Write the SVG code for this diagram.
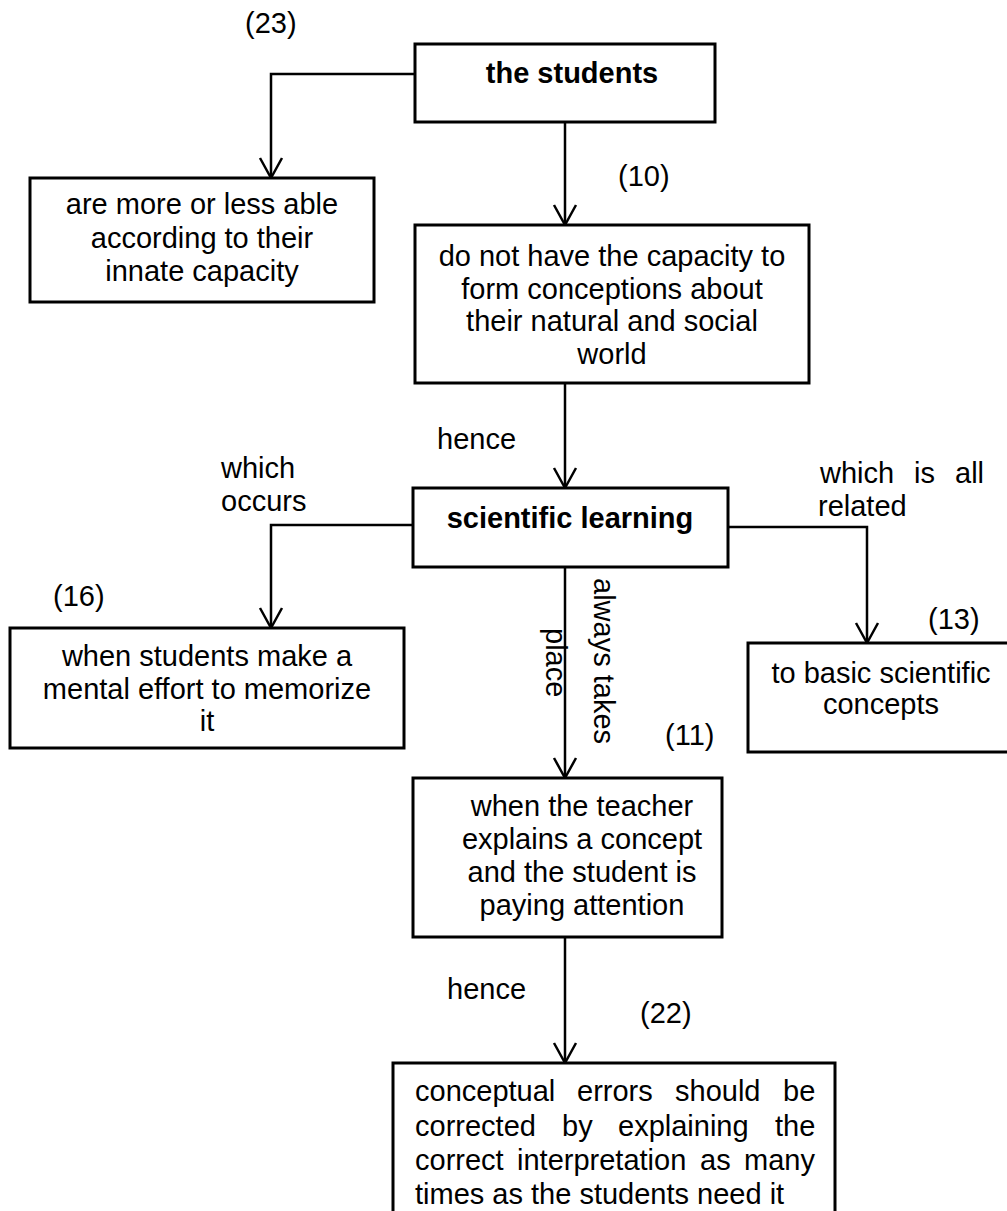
<svg xmlns="http://www.w3.org/2000/svg" width="1007" height="1211" viewBox="0 0 1007 1211">
  <style>
    .box { fill: #ffffff; stroke: #000000; stroke-width: 3; }
    .conn { fill: none; stroke: #000000; stroke-width: 2.5; }
    text { font-family: "Liberation Sans", Arial, sans-serif; font-size: 29px; fill: #000000; }
    .c { text-anchor: middle; }
    .b { font-weight: bold; }
  </style>
  <defs>
    <marker id="vee" markerUnits="userSpaceOnUse" markerWidth="30" markerHeight="30" refX="0" refY="0" viewBox="-24 -15 30 30" orient="auto" overflow="visible">
      <path d="M-20,-11 L0,0 L-20,11" fill="none" stroke="#000000" stroke-width="2.5"/>
    </marker>
  </defs>
  <rect width="1007" height="1211" fill="#ffffff"/>

  <!-- connectors -->
  <g id="connectors">
    <path class="conn" d="M415,74 H271 V178" marker-end="url(#vee)"/>
    <path class="conn" d="M565,122 V225" marker-end="url(#vee)"/>
    <path class="conn" d="M565,383 V488" marker-end="url(#vee)"/>
    <path class="conn" d="M413,525 H271 V628" marker-end="url(#vee)"/>
    <path class="conn" d="M728,527 H867 V643" marker-end="url(#vee)"/>
    <path class="conn" d="M565,567 V778" marker-end="url(#vee)"/>
    <path class="conn" d="M565,937 V1063" marker-end="url(#vee)"/>
  </g>

  <!-- connector labels -->
  <g id="labels">
    <text x="245" y="33">(23)</text>
    <text x="618" y="186">(10)</text>
    <text x="437" y="449">hence</text>
    <text x="221" y="478">which</text>
    <text x="221" y="511">occurs</text>
    <text x="820" y="483">which</text>
    <text x="914" y="483">is</text>
    <text x="955" y="483">all</text>
    <text x="818" y="516">related</text>
    <text x="53" y="606">(16)</text>
    <text x="928" y="629">(13)</text>
    <text transform="translate(594,578) rotate(90)">always takes</text>
    <text transform="translate(546,628) rotate(90)">place</text>
    <text x="665" y="745">(11)</text>
    <text x="447" y="999">hence</text>
    <text x="640" y="1023">(22)</text>
  </g>

  <!-- nodes -->
  <g id="node-students">
    <rect class="box" x="415" y="44" width="300" height="78"/>
    <text class="c b" x="572" y="83">the students</text>
  </g>

  <g id="node-innate">
    <rect class="box" x="30" y="178" width="344" height="124"/>
    <text class="c" x="202" y="214">are more or less able</text>
    <text class="c" x="202" y="248">according to their</text>
    <text class="c" x="202" y="281">innate capacity</text>
  </g>

  <g id="node-capacity">
    <rect class="box" x="415" y="225" width="394" height="158"/>
    <text class="c" x="612" y="266">do not have the capacity to</text>
    <text class="c" x="612" y="299">form conceptions about</text>
    <text class="c" x="612" y="331">their natural and social</text>
    <text class="c" x="612" y="364">world</text>
  </g>

  <g id="node-learning">
    <rect class="box" x="413" y="488" width="315" height="79"/>
    <text class="c b" x="570" y="528">scientific learning</text>
  </g>

  <g id="node-memorize">
    <rect class="box" x="10" y="628" width="394" height="120"/>
    <text class="c" x="207" y="666">when students make a</text>
    <text class="c" x="207" y="699">mental effort to memorize</text>
    <text class="c" x="207" y="731">it</text>
  </g>

  <g id="node-concepts">
    <rect class="box" x="748" y="643" width="270" height="109"/>
    <text class="c" x="881" y="683">to basic scientific</text>
    <text class="c" x="881" y="714">concepts</text>
  </g>

  <g id="node-teacher">
    <rect class="box" x="413" y="778" width="309" height="159"/>
    <text class="c" x="582" y="816">when the teacher</text>
    <text class="c" x="582" y="849">explains a concept</text>
    <text class="c" x="582" y="882">and the student is</text>
    <text class="c" x="582" y="915">paying attention</text>
  </g>

  <!-- justified paragraph: words placed one by one -->
  <g id="node-errors">
    <rect class="box" x="393" y="1063" width="442" height="160"/>
    <text y="1101"><tspan x="415">conceptual</tspan><tspan x="577">errors</tspan><tspan x="675">should</tspan><tspan x="783">be</tspan></text>
    <text y="1136"><tspan x="415">corrected</tspan><tspan x="562">by</tspan><tspan x="618">explaining</tspan><tspan x="775">the</tspan></text>
    <text y="1170"><tspan x="415">correct</tspan><tspan x="517">interpretation</tspan><tspan x="700">as</tspan><tspan x="744">many</tspan></text>
    <text x="415" y="1204">times as the students need it</text>
  </g>
</svg>
